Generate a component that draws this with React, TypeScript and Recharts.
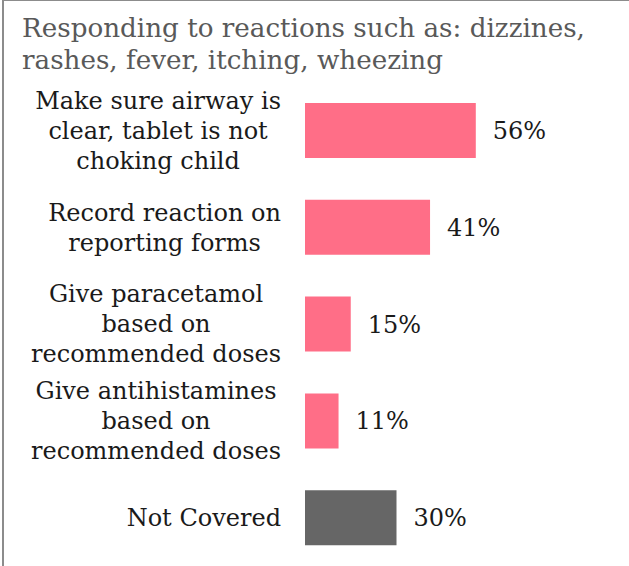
import { Bar, BarChart, Cell, LabelList, XAxis, YAxis } from "recharts";

const titleLines = [
  "Responding to reactions such as: dizzines,",
  "rashes, fever, itching, wheezing",
];

const categories = [
  "Make sure airway is\nclear, tablet is not\nchoking child",
  "Record reaction on\nreporting forms",
  "Give paracetamol\nbased on\nrecommended doses",
  "Give antihistamines\nbased on\nrecommended doses",
  "Not Covered",
];
const values = [56, 41, 15, 11, 30];
const barColors = ["#ff6e87", "#ff6e87", "#ff6e87", "#ff6e87", "#666666"];

const data = categories.map((name, i) => ({ name, value: values[i] }));

const FONT = "'DejaVu Serif', serif";
const LABEL_SIZE = 24;

let ctx: CanvasRenderingContext2D | null = null;
function textWidth(s: string) {
  if (!ctx) ctx = document.createElement("canvas").getContext("2d");
  if (!ctx) return s.length * 13;
  ctx.font = `${LABEL_SIZE}px ${FONT}`;
  return ctx.measureText(s).width;
}

// multi-line label: block right aligned, each line centred in the block
function CategoryTick(props: any) {
  const { x, y, payload } = props;
  const lines: string[] = String(payload.value).split("\n");
  const maxW = Math.max(...lines.map(textWidth));
  const right = x - 18;
  const cx = right - maxW / 2;
  const lh = 30;
  const startY = y - ((lines.length - 1) * lh) / 2;
  return (
    <text textAnchor="middle" fontFamily={FONT} fontSize={LABEL_SIZE} fill="#1a1a1a">
      {lines.map((l, i) => (
        <tspan key={i} x={cx} y={startY + i * lh} dy="0.35em">
          {l}
        </tspan>
      ))}
    </text>
  );
}

export default function App() {
  return (
    <div
      style={{
        position: "absolute",
        left: 0,
        top: 0,
        width: 629,
        height: 566,
        overflow: "hidden",
        background: "#fff",
      }}
    >
      <div
        style={{
          position: "absolute",
          left: 2,
          top: -1,
          width: 800,
          height: 800,
          border: "2px solid #8c8c8c",
        }}
      />
      <div
        style={{
          position: "absolute",
          left: 22,
          top: 12,
          fontFamily: FONT,
          fontSize: 26.2,
          lineHeight: "32px",
          color: "#595959",
          whiteSpace: "nowrap",
        }}
      >
        {titleLines.map((t, i) => (
          <div key={i}>{t}</div>
        ))}
      </div>
      <div style={{ position: "absolute", left: 0, top: 0 }}>
        <BarChart
          width={629}
          height={566}
          data={data}
          layout="vertical"
          margin={{ top: 82, right: 19, bottom: 0, left: 0 }}
          barSize={55}
        >
          <XAxis type="number" domain={[0, 100]} hide />
          <YAxis
            type="category"
            dataKey="name"
            width={305}
            axisLine={false}
            tickLine={false}
            tickMargin={0}
            tick={<CategoryTick />}
            interval={0}
          />
          <Bar dataKey="value" isAnimationActive={false}>
            {data.map((d, i) => (
              <Cell key={d.name} fill={barColors[i]} />
            ))}
            <LabelList
              dataKey="value"
              position="right"
              offset={17}
              formatter={(v: any) => `${v}%`}
              style={{ fontFamily: FONT, fontSize: 24, fill: "#1a1a1a" }}
            />
          </Bar>
        </BarChart>
      </div>
    </div>
  );
}
